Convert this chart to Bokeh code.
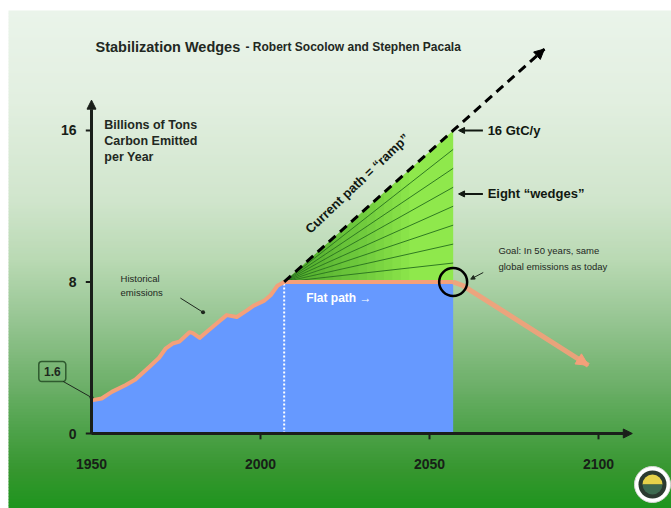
import numpy as np
from bokeh.plotting import figure
from bokeh.models import Range1d, Arrow, NormalHead
from bokeh.core.properties import value
from bokeh.embed import file_html
from bokeh.resources import INLINE

# ---------------- data ----------------
hist_years = [1950, 1953, 1956, 1960, 1963, 1967, 1970, 1972, 1974, 1976, 1979, 1980,
              1982, 1985, 1988, 1990, 1993, 1996, 1998, 2001, 2003, 2005, 2007]
hist_vals = [1.75, 1.85, 2.2, 2.55, 2.85, 3.5, 4.0, 4.5, 4.75, 4.85, 5.35, 5.3,
             5.05, 5.5, 5.95, 6.25, 6.15, 6.5, 6.75, 7.0, 7.3, 7.8, 8.0]
flat_years = [2007, 2057]
flat_vals = [8.0, 8.0]
ramp_years = [2007, 2057, 2084]
ramp_vals = [8.0, 16.0, 20.3]
wedge_tops = [9, 10, 11, 12, 13, 14, 15]
decline_years = [2057, 2060, 2097]
decline_vals = [8.0, 7.8, 3.6]
x_ticks = [1950, 2000, 2050, 2100]
x_labels = ["1950", "2000", "2050", "2100"]
y_ticks = [0, 8, 16]
y_labels = ["0", "8", "16"]
start_value_label = "1.6"

# ---------------- geometry ----------------
W, H = 671, 508
PXY = 3.38      # px per year
PXU = 18.94     # px per GtC
x0 = 1950 - 91 / PXY
x1 = x0 + W / PXY
y1 = 433 / PXU
y0 = y1 - H / PXU

def dy(py):  # page pixel y -> data
    return (433 - py) / PXU

def dx(px):
    return 1950 + (px - 91) / PXY

FONT = value("Liberation Sans")
DARK = "#172017"

p = figure(width=W, height=H, output_backend="svg", toolbar_location=None,
           x_range=Range1d(x0, x1), y_range=Range1d(y0, y1), min_border=0)
p.axis.visible = False
p.grid.visible = False
p.outline_line_color = None
p.background_fill_color = "white"
p.border_fill_color = "white"

# ---------------- background gradient ----------------
stops_py = [10, 100, 200, 260, 320, 380, 430, 470, 508]
stops_c = ["#eaf4ea", "#e2efe0", "#d0e5cc", "#b9d9b3", "#96c592", "#70b16c", "#4ea24a", "#36962f", "#1e951e"]
def hex2rgb(h):
    return np.array([int(h[i:i + 2], 16) for i in (1, 3, 5)], dtype=float)
cs = np.array([hex2rgb(c) for c in stops_c])
edges = np.arange(10, 511, 3)
tops, bots, cols = [], [], []
for a, b in zip(edges[:-1], edges[1:]):
    m = (a + b) / 2
    rgb = [np.interp(m, stops_py, cs[:, k]) for k in range(3)]
    cols.append("#%02x%02x%02x" % tuple(int(round(v)) for v in rgb))
    tops.append(dy(a))
    bots.append(dy(b + 0.6))
p.quad(left=dx(8), right=x1, top=tops, bottom=bots, fill_color=cols, line_color=None)

# ---------------- emission path (blue area + orange line) ----------------
path_years = hist_years + flat_years[1:]
path_vals = hist_vals + flat_vals[1:]
p.varea(x=path_years, y1=0, y2=path_vals, fill_color="#6699ff")
p.line(x=[flat_years[0], flat_years[0]], y=[0, flat_vals[0]], line_color="white",
       line_width=2, line_dash="2 2")

# ---------------- wedges ----------------
ax, ay = ramp_years[0], ramp_vals[0]
ex = ramp_years[1]
p.patch(x=[ax, ex, ex], y=[ay, ramp_vals[1], flat_vals[1]], fill_color="#8fe84c", line_color=None)
slope = (ramp_vals[1] - ay) / (ex - ax)
for d in np.arange(2, 38, 2.5):
    p.patch(x=[ax, ax + d, ax + d], y=[ay, ay + slope * d, ay], fill_color="#1f6a14",
            fill_alpha=0.045, line_color=None)
for t in wedge_tops:
    p.line(x=[ax, ex], y=[ay, t], line_color="#2f7a22", line_width=1)

p.line(x=path_years, y=path_vals, line_color="#f4a07a", line_width=4, line_join="round")

# ramp dashed line
p.line(x=ramp_years, y=ramp_vals, line_color="black", line_width=3, line_dash="9 6")
p.add_layout(Arrow(end=NormalHead(size=10, fill_color="black", line_color="black"),
                   x_start=ramp_years[-1] - 1, y_start=ramp_vals[-1] - slope,
                   x_end=ramp_years[-1], y_end=ramp_vals[-1], line_color="black", line_width=3))

# decline arrow
p.line(x=decline_years, y=decline_vals, line_color="#f4a07a", line_width=5, line_alpha=0.9)
p.add_layout(Arrow(end=NormalHead(size=12, fill_color="#f4a07a", line_color="#f4a07a"),
                   x_start=decline_years[-2], y_start=decline_vals[-2],
                   x_end=decline_years[-1], y_end=decline_vals[-1], line_color="#f4a07a",
                   line_width=5, line_alpha=0))

# goal circle
p.scatter(x=[flat_years[1]], y=[flat_vals[1]], marker="circle", size=28, fill_color=None,
          line_color="black", line_width=2.5)

# ---------------- axes ----------------
AXC = "#1a1f1a"
p.add_layout(Arrow(end=NormalHead(size=9, fill_color=AXC, line_color=AXC),
                   x_start=1950, y_start=0, x_end=1950, y_end=17.6, line_color=AXC, line_width=3))
p.add_layout(Arrow(end=NormalHead(size=9, fill_color=AXC, line_color=AXC),
                   x_start=1950, y_start=0, x_end=2110, y_end=0, line_color=AXC, line_width=3))
p.scatter(x=[1950 - 0.8] * len(y_ticks), y=y_ticks, marker="dash", size=6, line_color=AXC, line_width=2)
p.scatter(x=x_ticks[1:], y=[-0.15] * (len(x_ticks) - 1), marker="dash", angle=np.pi / 2,
          size=6, line_color=AXC, line_width=2)
p.text(x=x_ticks, y=[-1.6] * len(x_ticks), text=x_labels, text_font=FONT, text_font_style="bold",
       text_font_size="14px", text_align="center", text_baseline="middle", text_color=DARK)
p.text(x=[1950 - 4.4] * len(y_ticks), y=y_ticks, text=y_labels, text_font=FONT, text_font_style="bold",
       text_font_size="14px", text_align="right", text_baseline="middle", text_color=DARK)

# ---------------- titles & annotations ----------------
p.text(x=[dx(95)], y=[dy(46)], text=["Stabilization Wedges"], text_font=FONT, text_font_style="bold",
       text_font_size="14.5px", text_baseline="middle", text_color="#222822")
p.text(x=[dx(245)], y=[dy(46)], text=["- Robert Socolow and Stephen Pacala"], text_font=FONT,
       text_font_style="bold", text_font_size="12px", text_baseline="middle", text_color="#222822")

p.text(x=[1953.8] * 3, y=[16.3, 15.45, 14.6], text=["Billions of Tons", "Carbon Emitted", "per Year"],
       text_font=FONT, text_font_style="bold", text_font_size="12.5px", text_baseline="middle",
       text_color="#222822")

p.text(x=[2028.6], y=[13.2], text=["Current path = \u201cramp\u201d"], angle=0.76, text_font=FONT,
       text_font_style="bold", text_font_size="13px", text_align="center", text_baseline="middle",
       text_color="#111811")

p.text(x=[2067.2], y=[16.0], text=["16 GtC/y"], text_font=FONT, text_font_style="bold",
       text_font_size="13px", text_baseline="middle", text_color="#111811")
p.text(x=[2067.2], y=[12.65], text=["Eight \u201cwedges\u201d"], text_font=FONT, text_font_style="bold",
       text_font_size="13px", text_baseline="middle", text_color="#111811")
for yy in [16.0, 12.65]:
    p.add_layout(Arrow(end=NormalHead(size=6, fill_color="#111811", line_color="#111811"),
                       x_start=2065.8, y_start=yy, x_end=2058.6, y_end=yy, line_color="#111811",
                       line_width=2))

p.text(x=[2070.4, 2070.4], y=[9.68, 8.84], text=["Goal: In 50 years, same", "global emissions as today"],
       text_font=FONT, text_font_size="9.5px", text_baseline="middle", text_color="#1e281e")
p.add_layout(Arrow(end=NormalHead(size=4, fill_color="#1e281e", line_color="#1e281e"),
                   x_start=2065.9, y_start=8.5, x_end=2062.2, y_end=8.15, line_color="#1e281e",
                   line_width=1))

p.text(x=[2013.5], y=[7.15], text=["Flat path \u2192"], text_font=FONT, text_font_style="bold",
       text_font_size="12px", text_baseline="middle", text_color="white")

p.text(x=[1958.6, 1958.6], y=[8.2, 7.45], text=["Historical", "emissions"], text_font=FONT,
       text_font_size="9.5px", text_baseline="middle", text_color="#1e281e")
p.line(x=[1976.3, 1983.0], y=[7.15, 6.4], line_color="#1e281e", line_width=1)
p.scatter(x=[1983.0], y=[6.4], marker="circle", size=4, fill_color="#1e281e", line_color=None)

# 1.6 label box
p.rect(x=[1938.4], y=[3.27], width=27, height=20, width_units="screen", height_units="screen",
       fill_color=None, line_color="#2f5a2f", line_width=1.5, border_radius=3)
p.text(x=[1938.4], y=[3.27], text=[start_value_label], text_font=FONT, text_font_style="bold",
       text_font_size="12px", text_align="center", text_baseline="middle", text_color="#1e281e")
p.line(x=[1941.6, 1950], y=[2.75, 1.9], line_color="#1e281e", line_width=1)
p.scatter(x=[1950], y=[1.9], marker="circle", size=4, fill_color="#1e281e", line_color=None)

# logo (decoration)
lx, ly = dx(652), dy(484)
p.scatter(x=[lx], y=[ly], marker="circle", size=36, fill_color="white", line_color="#d8d8d8")
p.scatter(x=[lx], y=[ly], marker="circle", size=28, fill_color="#2b3a30", line_color=None)
p.wedge(x=[lx], y=[ly], radius=10, radius_units="screen", start_angle=0, end_angle=np.pi,
        fill_color="#e6d24a", line_color=None)
p.wedge(x=[lx], y=[ly], radius=10, radius_units="screen", start_angle=np.pi, end_angle=2 * np.pi,
        fill_color="#3d6a50", line_color=None)

open("out.html", "w").write(file_html(p, INLINE))
